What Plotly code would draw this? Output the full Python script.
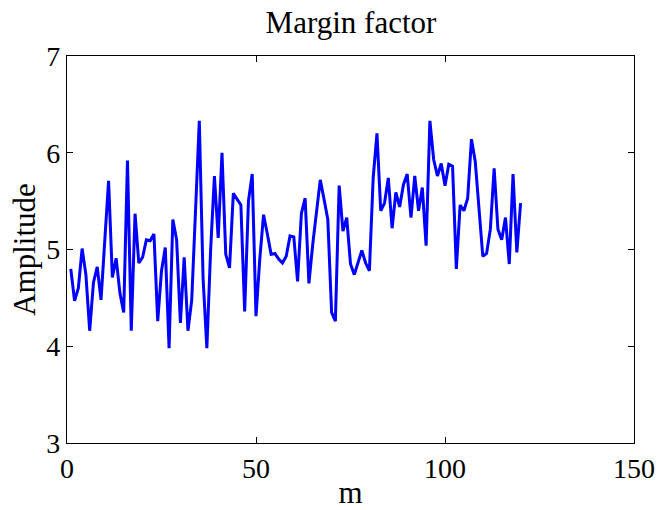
import plotly.graph_objects as go

# Margin factor per index m
m = list(range(1, 121))
amplitude = [
    4.80, 4.47, 4.60, 5.01, 4.74, 4.16, 4.66, 4.82, 4.48, 5.09,
    5.71, 4.71, 4.91, 4.55, 4.35, 5.92, 4.16, 5.37, 4.86, 4.92,
    5.10, 5.09, 5.16, 4.26, 4.78, 5.02, 3.98, 5.31, 5.10, 4.24,
    4.92, 4.16, 4.48, 5.40, 6.33, 4.70, 3.98, 5.00, 5.76, 5.12,
    6.00, 4.95, 4.81, 5.58, 5.52, 5.46, 4.36, 5.50, 5.78, 4.31,
    4.90, 5.36, 5.16, 4.95, 4.96, 4.90, 4.86, 4.93, 5.14, 5.13,
    4.67, 5.37, 5.53, 4.65, 5.05, 5.38, 5.72, 5.52, 5.31, 4.35,
    4.26, 5.66, 5.19, 5.33, 4.85, 4.74, 4.86, 4.99, 4.86, 4.78,
    5.74, 6.20, 5.40, 5.48, 5.74, 5.22, 5.59, 5.44, 5.67, 5.78,
    5.33, 5.76, 5.40, 5.64, 5.04, 6.33, 5.93, 5.76, 5.89, 5.66,
    5.88, 5.86, 4.80, 5.46, 5.40, 5.53, 6.14, 5.91, 5.42, 4.93,
    4.96, 5.21, 5.84, 5.21, 5.10, 5.33, 4.85, 5.78, 4.97, 5.48,
]

x_ticks = [0, 50, 100, 150]
y_ticks = [3, 4, 5, 6, 7]

FONT = "Liberation Serif"
TICK_SIZE = 28
LABEL_SIZE = 31

fig = go.Figure(
    go.Scatter(
        x=m,
        y=amplitude,
        mode="lines",
        line=dict(color="rgb(0,0,255)", width=3),
        showlegend=False,
    )
)

axis_common = dict(
    showgrid=False,
    zeroline=False,
    showline=True,
    linecolor="black",
    linewidth=1.2,
    mirror="ticks",
    ticks="inside",
    ticklen=6,
    tickwidth=1,
    tickcolor="black",
    automargin=False,
    tickfont=dict(family=FONT, size=TICK_SIZE, color="black"),
)

fig.update_layout(
    width=666,
    height=510,
    margin=dict(l=67, r=32, t=56, b=67),
    paper_bgcolor="white",
    plot_bgcolor="white",
    title=dict(
        text="Margin factor",
        font=dict(family=FONT, size=LABEL_SIZE, color="black"),
        x=0.527,
        xanchor="center",
        y=0.957,
        yanchor="middle",
    ),
    xaxis=dict(
        range=[0, 150],
        tickvals=x_ticks,
        title=dict(text="m", font=dict(family=FONT, size=LABEL_SIZE, color="black"), standoff=0),
        **axis_common,
    ),
    yaxis=dict(
        range=[3, 7],
        tickvals=y_ticks,
        title=dict(text="Amplitude", font=dict(family=FONT, size=LABEL_SIZE, color="black"), standoff=1),
        **axis_common,
    ),
)

fig.write_html("out.html")
